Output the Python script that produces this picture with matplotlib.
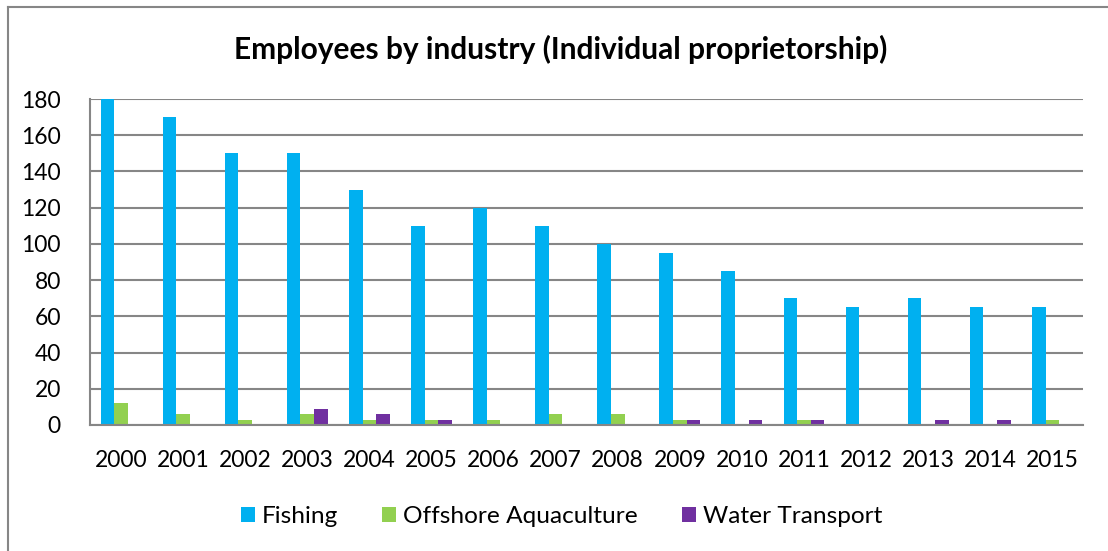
import matplotlib.pyplot as plt
import numpy as np

years = [str(y) for y in range(2000, 2016)]
fishing = [180, 170, 150, 150, 130, 110, 120, 110, 100, 95, 85, 70, 65, 70, 65, 65]
aquaculture = [12, 6, 3, 6, 3, 3, 3, 6, 6, 3, 0, 3, 0, 0, 0, 3]
transport = [0, 0, 0, 9, 6, 3, 0, 0, 0, 3, 3, 3, 0, 3, 3, 0]

plt.rcParams['font.family'] = ['Lato', 'DejaVu Sans']

fig = plt.figure(figsize=(11.08, 5.51), dpi=100)
ax = fig.add_axes([0.0812, 0.2287, 0.8966, 0.5916])

x = np.arange(len(years))
w = 0.22
ax.bar(x - w, fishing, w, color='#00B0F0', label='Fishing')
ax.bar(x, aquaculture, w, color='#92D050', label='Offshore Aquaculture')
ax.bar(x + w, transport, w, color='#7030A0', label='Water Transport')

ax.set_xlim(-0.5, len(years) - 0.5)
ax.set_ylim(0, 180)
ax.set_yticks(range(0, 181, 20))
ax.set_xticks(x)
ax.set_xticklabels(years)
ax.yaxis.grid(True, color='#868686', linewidth=1.5)
ax.set_axisbelow(True)
ax.tick_params(axis='both', length=0, labelsize=16.5, colors='black')
ax.tick_params(axis='x', pad=18)
ax.tick_params(axis='y', pad=21)
for s in ['top', 'right']:
    ax.spines[s].set_visible(False)
for s in ['left', 'bottom']:
    ax.spines[s].set_color('#868686')
    ax.spines[s].set_linewidth(1.5)

fig.text(0.506, 0.91, 'Employees by industry (Individual proprietorship)',
         ha='center', va='center', fontsize=21.5, fontweight='bold')

fig.legend(loc='center', bbox_to_anchor=(0.507, 0.063), ncol=3, frameon=False,
           fontsize=17.6, handlelength=0.57, handleheight=0.57, handletextpad=0.3,
           columnspacing=1.8)

# outer chart frame (only left/top edges visible in the crop)
fig.add_artist(plt.Line2D([0.0075, 0.0075], [0, 0.987], color='#868686', lw=1.5,
                          transform=fig.transFigure))
fig.add_artist(plt.Line2D([0.0075, 1], [0.987, 0.987], color='#868686', lw=1.5,
                          transform=fig.transFigure))

fig.savefig('out.png', dpi=100)
